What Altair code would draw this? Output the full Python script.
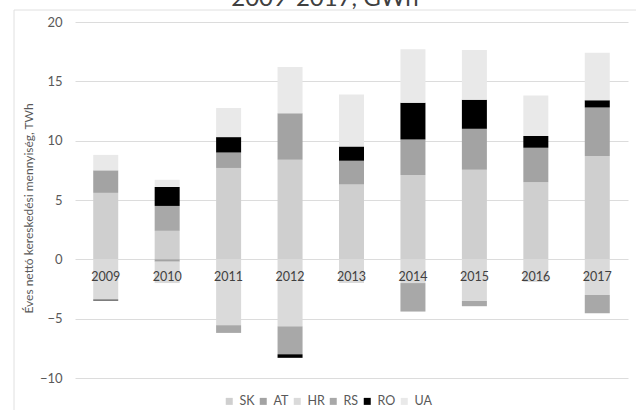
import altair as alt
import pandas as pd

# Net traded volume per partner country, TWh
years = [2009, 2010, 2011, 2012, 2013, 2014, 2015, 2016, 2017]
series = ["SK", "AT", "HR", "RS", "RO", "UA"]
SK = [5.6, 2.4, 7.7, 8.4, 6.3, 7.1, 7.55, 6.5, 8.7]
AT = [1.9, -0.2, 1.3, 3.9, 2.0, 3.0, 3.45, 2.9, 4.1]
HR = [-3.4, -1.8, -5.55, -5.65, -2.0, -2.0, -3.5, -1.9, -3.0]
RS = [0.0, 2.1, -0.65, -2.35, 0.0, -2.4, -0.45, 0.0, -1.55]
RO = [-0.07, 1.6, 1.3, -0.3, 1.2, 3.1, 2.45, 1.0, 0.6]
UA = [1.3, 0.6, 2.45, 3.9, 4.4, 4.5, 4.2, 3.4, 4.0]
colors = ["#cfcfcf", "#a3a3a3", "#dadada", "#a8a8a8", "#000000", "#e9e9e9"]
y_ticks = [-10, -5, 0, 5, 10, 15, 20]
title_text = "2009-2017, GWh"
y_title = "Éves nettó kereskedési mennyiség, TWh"

values = {"SK": SK, "AT": AT, "HR": HR, "RS": RS, "RO": RO, "UA": UA}
rows = []
for idx, s in enumerate(series):
    for yr, v in zip(years, values[s]):
        if v != 0:
            rows.append({"year": str(yr), "series": s, "idx": idx, "value": v})
df = pd.DataFrame(rows)
year_df = pd.DataFrame({"year": [str(y) for y in years]})

x_enc = alt.X("year:N", sort=[str(y) for y in years], axis=None,
              scale=alt.Scale(paddingInner=0.593, paddingOuter=0.2965))

bars = alt.Chart(df).mark_bar(strokeWidth=0).encode(
    x=x_enc,
    y=alt.Y("value:Q", stack="zero",
            scale=alt.Scale(domain=[-10, 20], nice=False, zero=False),
            axis=alt.Axis(values=y_ticks, title=y_title, grid=True,
                          gridColor="#dcdcdc", gridWidth=1, domain=False,
                          ticks=False, tickSize=0, labelPadding=13,
                          labelFontSize=13, labelColor="#595959",
                          titleFontSize=12, titleColor="#595959",
                          titleFontWeight="normal", titleX=-40, titleY=186)),
    color=alt.Color("series:N", scale=alt.Scale(domain=series, range=colors),
                    legend=alt.Legend(title=None, orient="none", direction="horizontal",
                                      legendX=148, legendY=373, symbolType="square",
                                      symbolSize=49, symbolStrokeWidth=0,
                                      labelFontSize=12.5, labelColor="#595959",
                                      labelOffset=4, columnPadding=2)),
    order=alt.Order("idx:Q", sort="ascending"),
)

year_labels = alt.Chart(year_df).mark_text(
    baseline="alphabetic", dy=22, fontSize=12.5, color="#404040"
).encode(x=x_enc, y=alt.datum(0), text="year:N")

title = alt.Chart(pd.DataFrame({"t": [title_text]})).mark_text(
    baseline="alphabetic", align="center", fontSize=24, color="#404040"
).encode(x=alt.value(250), y=alt.value(-16), text="t:N")

frame = alt.Chart(pd.DataFrame({"a": [0]})).mark_rect(
    fillOpacity=0, stroke="#e0e0e0", strokeWidth=1
).encode(x=alt.value(-61), x2=alt.value(700), y=alt.value(-12), y2=alt.value(500))

chart = alt.layer(frame, bars, year_labels, title).properties(
    width=553, height=356,
    autosize=alt.AutoSizeParams(type="none"),
    padding={"left": 75, "top": 22, "right": 8, "bottom": 32},
    background="white",
).configure(font="Lato").configure_view(stroke=None)

chart.save("out.html", embed_options={"renderer": "svg", "actions": False})
